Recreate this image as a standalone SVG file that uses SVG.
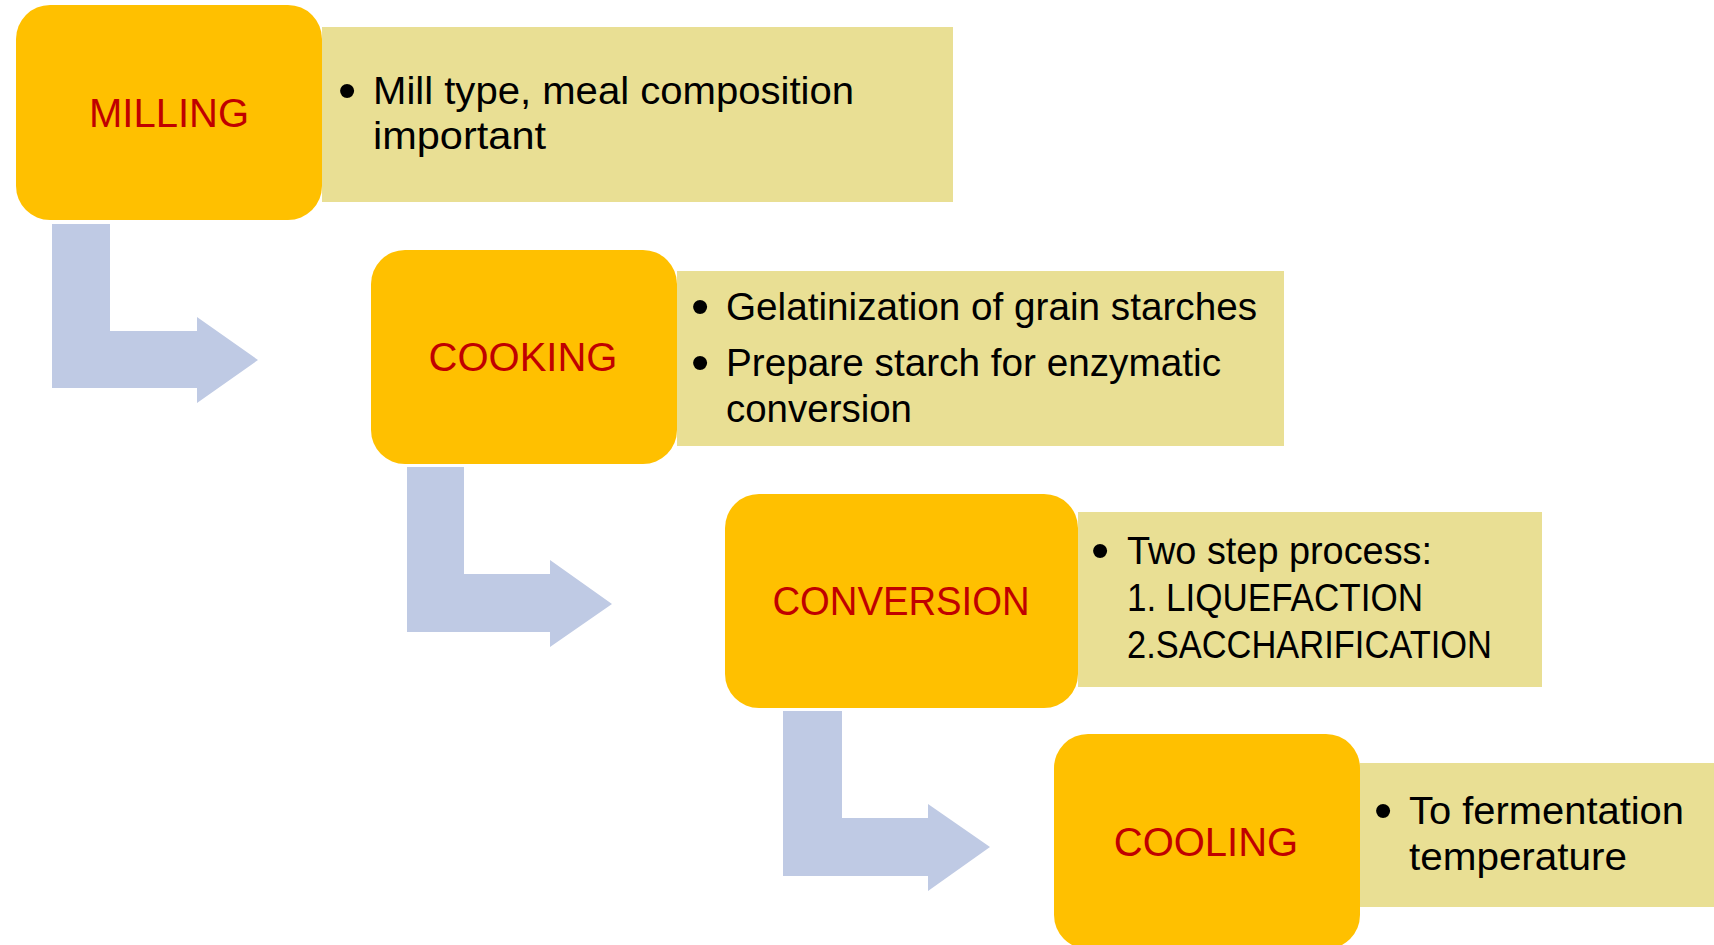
<svg xmlns="http://www.w3.org/2000/svg" width="1714" height="945" viewBox="0 0 1714 945">
  <style>
    .box { fill: #FFC000; }
    .desc { fill: #E9DF94; }
    .arrow { fill: #BFCAE4; }
    .label { font-family: "Liberation Sans", Arial, sans-serif; font-size: 40px; fill: #C00000; text-anchor: middle; }
    .body { font-family: "Liberation Sans", Arial, sans-serif; font-size: 38px; fill: #000000; }
    .bullet { font-family: "Liberation Sans", Arial, sans-serif; font-size: 52px; fill: #000000; }
  </style>
  <rect width="1714" height="945" fill="#FFFFFF"/>
  <g id="connectors">
    <polygon class="arrow" points="52,224 110,224 110,331 197,331 197,317 258,360 197,403 197,388 52,388"/>
    <polygon class="arrow" points="407,467 464,467 464,574 550,574 550,560 612,604 550,647 550,632 407,632"/>
    <polygon class="arrow" points="783,711 842,711 842,818 928,818 928,804 990,847 928,891 928,876 783,876"/>
  </g>
  <g id="milling">
    <rect class="desc" x="322" y="27" width="631" height="175"/>
    <rect class="box" x="16" y="5" width="306" height="215" rx="34" ry="34"/>
    <text class="label" x="169" y="127">MILLING</text>
    <text class="bullet" x="338" y="108">•</text>
    <text class="body" x="373" y="104" textLength="481" lengthAdjust="spacingAndGlyphs">Mill type, meal composition</text>
    <text class="body" x="373" y="149" textLength="173" lengthAdjust="spacingAndGlyphs">important</text>
  </g>
  <g id="cooking">
    <rect class="desc" x="677" y="271" width="607" height="175"/>
    <rect class="box" x="371" y="250" width="306" height="214" rx="34" ry="34"/>
    <text class="label" x="523" y="371">COOKING</text>
    <text class="bullet" x="691" y="324">•</text>
    <text class="body" x="726" y="320" textLength="531" lengthAdjust="spacingAndGlyphs">Gelatinization of grain starches</text>
    <text class="bullet" x="691" y="380">•</text>
    <text class="body" x="726" y="376" textLength="495" lengthAdjust="spacingAndGlyphs">Prepare starch for enzymatic</text>
    <text class="body" x="726" y="422" textLength="186" lengthAdjust="spacingAndGlyphs">conversion</text>
  </g>
  <g id="conversion">
    <rect class="desc" x="1078" y="512" width="464" height="175"/>
    <rect class="box" x="725" y="494" width="353" height="214" rx="34" ry="34"/>
    <text class="label" x="901" y="615" textLength="257" lengthAdjust="spacingAndGlyphs">CONVERSION</text>
    <text class="bullet" x="1091" y="568">•</text>
    <text class="body" x="1127" y="564" textLength="305" lengthAdjust="spacingAndGlyphs">Two step process:</text>
    <text class="body" x="1127" y="611" textLength="296" lengthAdjust="spacingAndGlyphs">1. LIQUEFACTION</text>
    <text class="body" x="1127" y="658" textLength="365" lengthAdjust="spacingAndGlyphs">2.SACCHARIFICATION</text>
  </g>
  <g id="cooling">
    <rect class="desc" x="1360" y="763" width="354" height="144"/>
    <rect class="box" x="1054" y="734" width="306" height="215" rx="34" ry="34"/>
    <text class="label" x="1206" y="856">COOLING</text>
    <text class="bullet" x="1374" y="828">•</text>
    <text class="body" x="1409" y="824" textLength="275" lengthAdjust="spacingAndGlyphs">To fermentation</text>
    <text class="body" x="1409" y="870" textLength="218" lengthAdjust="spacingAndGlyphs">temperature</text>
  </g>
</svg>
